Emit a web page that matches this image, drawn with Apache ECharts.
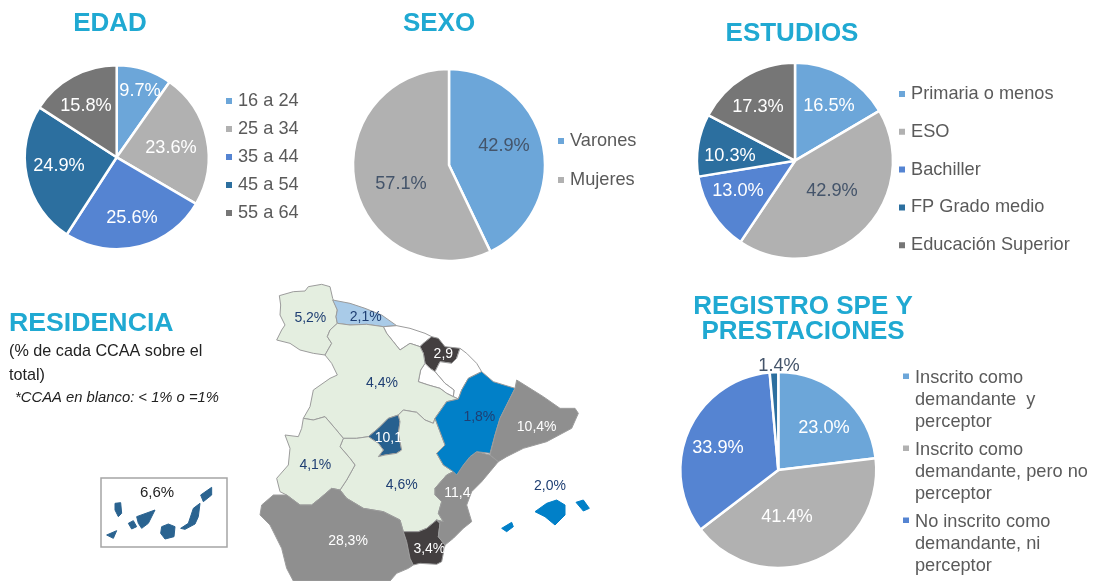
<!DOCTYPE html>
<html>
<head>
<meta charset="utf-8">
<script src="https://cdn.jsdelivr.net/npm/echarts@6/dist/echarts.min.js"></script>
<style>html,body{margin:0;padding:0;background:#fff;overflow:hidden}#c{width:1094px;height:581px}</style>
</head>
<body>
<div id="c"></div>
<script>
// ---------- DATA ----------
const edadCategories = ['16 a 24', '25 a 34', '35 a 44', '45 a 54', '55 a 64'];
const edadValues = [9.7, 23.6, 25.6, 24.9, 15.8];
const sexoCategories = ['Varones', 'Mujeres'];
const sexoValues = [42.9, 57.1];
const estudiosCategories = ['Primaria o menos', 'ESO', 'Bachiller', 'FP Grado medio', 'Educación Superior'];
const estudiosValues = [16.5, 42.9, 13.0, 10.3, 17.3];
const registroCategories = [
  'Inscrito como\ndemandante  y\nperceptor',
  'Inscrito como\ndemandante, pero no\nperceptor',
  'No inscrito como\ndemandante, ni\nperceptor',
  'Otros'
];
const registroValues = [23.0, 41.4, 33.9, 1.4];
const ccaaNames = ['Galicia','Asturias','Cantabria-País Vasco','Navarra','Este Navarra','La Rioja','Castilla y León','Madrid','Castilla-La Mancha','Extremadura','Andalucía','Murcia','C. Valenciana','Aragón','Cataluña','Baleares','Canarias'];
const ccaaValues = [5.2, 2.1, 1, 2.9, 1, 1, 4.4, 10.1, 4.6, 4.1, 28.3, 3.4, 11.4, 1.8, 10.4, 2.0, 6.6];
const ccaaLabels = ['5,2%','2,1%','','2,9','','','4,4%','10,1','4,6%','4,1%','28,3%','3,4%','11,4','1,8%','10,4%','2,0%','6,6%'];

// ---------- STYLE ----------
const pieColors = ['#6ca6d9', '#b1b1b1', '#5584d2', '#2c6f9f', '#767676'];
const titleColor = '#20a9d2';
const legendColor = '#5a5a5a';
const darkLabel = '#44546a';
const mapBlue = '#1f3f73';
const ccaaColors = ['#e4eee0','#a9cbe8','#ffffff','#433f40','#ffffff','#ffffff','#e4eee0','#27608f','#e4eee0','#e4eee0','#8f8f8f','#433f40','#8f8f8f','#0180c8','#8f8f8f','#0180c8','#2a6390'];
const ccaaLabelColors = [mapBlue,mapBlue,mapBlue,'#fff',mapBlue,mapBlue,mapBlue,'#fff',mapBlue,mapBlue,'#fff','#fff','#fff',mapBlue,'#fff',mapBlue,'#222'];

// ---------- MAP OUTLINES (base geometry, traced units) ----------
const shapes = {
 'Galicia':[[[88,62],[130,50],[165,48],[175,35],[215,28],[240,35],[248,70],[262,105],[258,125],[262,145],[240,165],[232,185],[245,205],[225,240],[190,235],[150,225],[120,205],[80,195],[95,165],[105,150],[90,120],[92,90]]],
 'Asturias':[[[248,75],[300,85],[345,100],[395,120],[440,152],[400,155],[350,148],[300,150],[262,145],[258,125],[262,105]]],
 'Cantabria-País Vasco':[[[440,152],[480,160],[525,175],[545,185],[520,205],[510,215],[480,205],[450,225],[430,200],[410,175],[400,155]]],
 'Navarra':[[[545,185],[565,190],[585,215],[630,220],[620,250],[605,265],[570,260],[555,290],[540,280],[525,265],[520,235],[510,215],[520,205]]],
 'Este Navarra':[[[630,220],[650,235],[680,265],[695,290],[655,310],[635,345],[625,372],[610,365],[612,345],[585,325],[555,290],[570,260],[605,265],[620,250]]],
 'La Rioja':[[[555,290],[585,325],[612,345],[610,365],[590,355],[570,340],[535,330],[505,320],[512,285],[525,265],[540,280]]],
 'Castilla y León':[[[232,185],[240,165],[262,145],[300,150],[350,148],[400,155],[410,175],[430,200],[450,225],[480,205],[510,215],[520,235],[525,265],[512,285],[505,320],[535,330],[570,340],[590,355],[610,365],[625,372],[590,380],[555,430],[550,445],[525,435],[500,412],[460,405],[445,420],[415,430],[385,460],[355,485],[320,490],[280,490],[255,460],[225,425],[190,435],[160,430],[180,395],[190,345],[240,310],[262,300],[245,265],[225,240],[245,205]]],
 'Madrid':[[[445,420],[450,440],[445,475],[455,525],[440,535],[405,540],[385,545],[400,525],[385,505],[355,485],[385,460],[415,430]]],
 'Castilla-La Mancha':[[[460,405],[500,412],[525,435],[550,445],[555,430],[570,470],[585,510],[560,535],[580,570],[610,590],[590,600],[555,640],[555,660],[575,680],[565,715],[580,740],[560,735],[530,760],[505,770],[460,770],[450,735],[400,710],[340,700],[290,670],[270,645],[290,615],[315,570],[300,550],[270,515],[280,490],[320,490],[355,485],[385,505],[400,525],[385,545],[405,540],[440,535],[455,525],[445,475],[450,440],[445,420]]],
 'Extremadura':[[[160,430],[190,435],[225,425],[255,460],[280,490],[270,515],[300,550],[315,570],[290,615],[270,645],[245,640],[210,670],[185,690],[150,690],[110,660],[90,650],[80,610],[115,570],[120,520],[105,480],[145,485],[155,460]]],
 'Andalucía':[[[35,690],[70,660],[110,660],[150,690],[185,690],[210,670],[245,640],[270,645],[290,670],[340,700],[400,710],[450,735],[460,770],[470,800],[480,850],[490,870],[475,880],[440,895],[420,918],[130,918],[110,880],[95,820],[60,750],[30,720]]],
 'Murcia':[[[460,770],[505,770],[530,760],[560,735],[570,745],[565,785],[585,810],[575,860],[560,868],[510,865],[490,870],[480,850],[470,800]]],
 'C. Valenciana':[[[680,530],[720,540],[745,560],[720,590],[695,620],[665,650],[650,690],[665,740],[640,760],[610,790],[585,810],[565,785],[570,745],[560,735],[580,740],[565,715],[575,680],[555,660],[555,640],[590,600],[610,590],[640,570],[660,545]]],
 'Aragón':[[[695,290],[730,320],[795,340],[770,390],[750,430],[735,480],[720,535],[680,530],[660,545],[640,570],[620,600],[610,590],[580,570],[560,535],[585,510],[570,470],[555,430],[590,380],[625,372],[635,345],[655,310]]],
 'Cataluña':[[[795,340],[800,315],[840,340],[880,365],[930,400],[975,400],[985,415],[965,460],[890,500],[820,520],[770,545],[745,560],[720,540],[735,480],[750,430],[770,390]]],
 'Baleares':[[[855,710],[890,685],[920,675],[945,690],[945,720],[915,750],[885,725]],[[978,682],[1000,675],[1018,700],[1000,708]],[[755,760],[785,742],[790,755],[770,770]]]
};
// Canary islands, traced in a second crop with its own origin
const canaryShapes = [
 [[345,610],[362,608],[365,640],[355,650],[345,630]],
 [[320,705],[350,692],[340,715]],
 [[385,670],[400,662],[410,680],[395,687]],
 [[410,650],[465,630],[445,670],[425,685],[415,670]],
 [[485,680],[505,672],[525,680],[522,710],[495,717],[482,700]],
 [[542,685],[565,670],[580,625],[600,610],[595,650],[585,672],[555,688]],
 [[602,585],[635,562],[635,585],[610,605]]
];
const labelAnchors = {
 'Galicia':[181,130],'Asturias':[347,127],'Navarra':[580,238],'Castilla y León':[396,323],'Madrid':[415,490],
 'Castilla-La Mancha':[455,630],'Extremadura':[196,570],'Andalucía':[294,798],'Murcia':[538,822],'C. Valenciana':[622,655],
 'Aragón':[688,427],'Cataluña':[860,455],'Baleares':[900,632]
};
const toPx = p => [250 + p[0] / 3, 275 + p[1] / 3];
const toPxCanary = p => [p[0] / 3, 300 + p[1] / 3];
const features = ccaaNames.map(n => {
  let polys, cp;
  if (n === 'Canarias') { polys = canaryShapes.map(r => r.map(toPxCanary)); cp = [157, 493]; }
  else { polys = shapes[n].map(r => r.map(toPx)); cp = labelAnchors[n] ? toPx(labelAnchors[n]) : undefined; }
  return { type:'Feature', properties:{ name:n, cp:cp }, geometry:{ type:'MultiPolygon', coordinates: polys.map(r => [r.concat([r[0]])]) } };
});
echarts.registerMap('espana', { type:'FeatureCollection', features });
let xs = [], ys = [];
features.forEach(f => f.geometry.coordinates.forEach(p => p[0].forEach(c => { xs.push(c[0]); ys.push(c[1]); })));
const bx0 = Math.min(...xs), bx1 = Math.max(...xs), by0 = Math.min(...ys), by1 = Math.max(...ys);

// ---------- PIE LABEL PLACEMENT ----------
const edadLabelPos = [[140,91],[171,148],[132,218],[59,166],[86,106]];
const sexoLabelPos = [[504,146],[401,184]];
const estudiosLabelPos = [[829,106],[832,191],[738,191],[730,156],[758,107]];
const registroLabelPos = [[824,428],[787,517],[718,448],[779,366]];

function pie(name, cats, vals, colors, center, r, pos, labelColors) {
  return {
    type:'pie', name, center, radius:[0, r], startAngle:90, clockwise:true, silent:true, animation:false,
    itemStyle:{ borderColor:'#fff', borderWidth:2.5 },
    labelLine:{ show:false },
    label:{ show:true, position:'inside', fontFamily:'Liberation Sans', fontSize:18.2 },
    labelLayout: params => ({ x:pos[params.dataIndex][0], y:pos[params.dataIndex][1], align:'center', verticalAlign:'middle' }),
    data: cats.map((c,i) => ({
      name:c, value:vals[i], itemStyle:{ color:colors[i] },
      label:{ color:labelColors[i], formatter: vals[i].toFixed(1) + '%' }
    }))
  };
}
function legend(cats, left, top, gap) {
  return { data:cats, left, top, orient:'vertical', itemWidth:8, itemHeight:8, itemGap:gap, icon:'rect', selectedMode:false, padding:0,
    textStyle:{ color:legendColor, fontFamily:'Liberation Sans', fontSize:18.2 } };
}
function heading(text, left, top, size, align, lh) {
  return { text, left, top, textAlign:align, padding:0, textStyle:{ color:titleColor, fontFamily:'Liberation Sans', fontWeight:'bold', fontSize:size, lineHeight:lh || size } };
}

const option = {
  backgroundColor:'#fff',
  animation:false,
  title:[
    heading('EDAD', 110, 11, 26, 'center'),
    heading('SEXO', 439, 11, 26, 'center'),
    heading('ESTUDIOS', 792, 21, 26, 'center'),
    heading('REGISTRO SPE Y\nPRESTACIONES', 803, 294, 26, 'center', 25),
    heading('RESIDENCIA', 9, 310, 26.7, 'left'),
    { text:'(% de cada CCAA sobre el\ntotal)', left:9, top:340, padding:0, textStyle:{ color:'#222', fontFamily:'Liberation Sans', fontWeight:'normal', fontSize:16.2, lineHeight:24 } },
    { text:'*CCAA en blanco: < 1% o =1%', left:15, top:390, padding:0, textStyle:{ color:'#222', fontFamily:'Liberation Sans', fontWeight:'normal', fontStyle:'italic', fontSize:14.8 } }
  ],
  legend:[
    legend(edadCategories, 224, 92, 10),
    legend(sexoCategories, 556, 132, 21),
    legend(estudiosCategories, 897, 85, 19.8),
    Object.assign(legend(registroCategories.slice(0,3), 901, 364, 0), {
      itemHeight:70, icon:'path://M0 7.5H8V15H0Z M0 0H8V0Z M0 70H8V70Z',
      textStyle:{ color:legendColor, fontFamily:'Liberation Sans', fontSize:18.2, lineHeight:22 }
    })
  ],
  graphic:[
    { type:'rect', shape:{ x:101, y:478, width:126, height:69 }, style:{ fill:'#fff', stroke:'#a5a5a5', lineWidth:1.5 }, z:-1 }
  ],
  series:[
    pie('EDAD', edadCategories, edadValues, pieColors, [116.7,157.3], 92, edadLabelPos, ['#fff','#fff','#fff','#fff','#fff']),
    pie('SEXO', sexoCategories, sexoValues, pieColors, [449,165], 96, sexoLabelPos, [darkLabel,darkLabel]),
    pie('ESTUDIOS', estudiosCategories, estudiosValues, pieColors, [795,160.7], 98, estudiosLabelPos, ['#fff',darkLabel,'#fff','#fff','#fff']),
    pie('REGISTRO', registroCategories, registroValues, [pieColors[0],pieColors[1],pieColors[2],pieColors[3]], [778.3,470], 98, registroLabelPos, ['#fff','#fff','#fff',darkLabel]),
    {
      type:'map', map:'espana', silent:true, animation:false, showLegendSymbol:false,
      projection:{ project:p => p, unproject:p => p },
      left:bx0, top:by0, width:bx1-bx0, height:by1-by0,
      roam:false, selectedMode:false,
      itemStyle:{ borderColor:'#9c9c9c', borderWidth:1 },
      label:{ show:true, fontFamily:'Liberation Sans', fontSize:14 },
      data: ccaaNames.map((n,i) => ({
        name:n, value:ccaaValues[i],
        itemStyle:{ areaColor:ccaaColors[i], borderColor:(n==='Canarias'||n==='Baleares')?ccaaColors[i]:'#9c9c9c' },
        label:{ color:ccaaLabelColors[i], formatter:ccaaLabels[i], fontSize:n==='Canarias'?15:14 }
      }))
    }
  ]
};
const chart = echarts.init(document.getElementById('c'), null, { renderer:'canvas', width:1094, height:581 });
chart.setOption(option);
</script>
</body>
</html>
